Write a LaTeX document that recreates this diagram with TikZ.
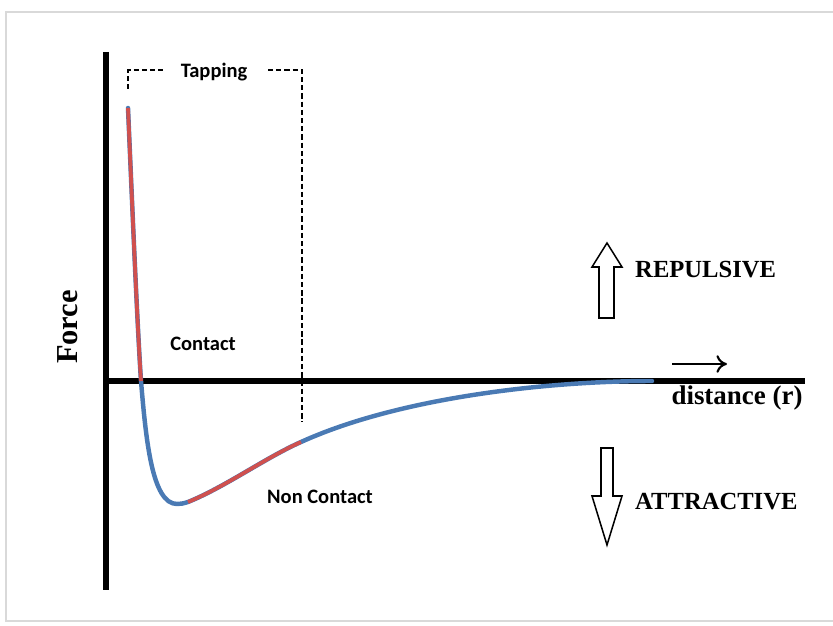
\documentclass[tikz,border=0pt]{standalone}
\usepackage{fontspec}
\setmainfont{Liberation Serif}
\newfontfamily\calibri{Carlito}
\usetikzlibrary{arrows.meta}
\definecolor{curveblue}{RGB}{74,122,180}
\definecolor{curvered}{RGB}{208,80,78}

\begin{document}
\begin{tikzpicture}[x=0.03cm,y=-0.03cm,
  axis/.style={line width=4.3pt},
  tag/.style={font=\calibri\bfseries\fontsize{17.5}{20}\selectfont,inner sep=0pt},
  word/.style={font=\bfseries\fontsize{21}{24}\selectfont,inner sep=0pt},
  bracket/.style={line width=1.4pt,dash pattern=on 4.5pt off 2.5pt},
  hollow/.style={draw,line width=1.3pt,fill=white,line join=miter}]
 \useasboundingbox (0,0) rectangle (833,626);
 \draw[gray!30,line width=1.6pt] (845,12) -- (6,12) -- (6,621) -- (845,621);
 \coordinate (O) at (106,381);
 \draw[axis] (106,52) coordinate (top) -- (106,590) coordinate (bottom);
 \draw[axis] (O) -- (805,381) coordinate (far);
 \node[rotate=90,font=\bfseries\fontsize{26}{30}\selectfont,inner sep=0pt] (force) at (68,327) {Force};
 \node[font=\bfseries\fontsize{23}{26}\selectfont,inner sep=0pt] (dist) at (737,398) {distance (r)};
 \draw[line width=1.8pt,-{To[length=9pt,width=15pt,line width=1.8pt]}] (672,364) coordinate (d0) -- (727,364) coordinate (d1);
 \draw[curveblue,line width=3.8pt,line cap=round]
   (128,108) coordinate (A) .. controls (132,200) and (137,320) .. (141,381) coordinate (B)
   .. controls (146,440) and (152,504) .. (177,504) coordinate (C)
   .. controls (181,504) and (183,503.5) .. (188,502) coordinate (C')
   .. controls (225,487) and (265,458) .. (301,442) coordinate (D)
   .. controls (400,397) and (550,381) .. (652,381) coordinate (E);
 \draw[curvered,line width=3.2pt]
   (A) .. controls (132,200) and (137,320) .. (B);
 \draw[curvered,line width=3.2pt]
   (C') .. controls (225,487) and (265,458) .. (D);
 \node[tag] (tapping) at (214,72) {Tapping};
 \draw[bracket] (128,89) coordinate (t0) -- (128,70) -- (163,70) coordinate (t1);
 \draw[bracket] (268,70) coordinate (t2) -- (302,70) -- (302,422) coordinate (t3);
 \node[tag] (contact) at (203,344) {Contact};
 \node[tag] (noncontact) at (320,497) {Non Contact};
 \draw[hollow] (599,318) -- (599,267) -- (592,267) -- (607,243) -- (622,267) -- (614,267) -- (614,318) -- cycle;
 \draw[hollow] (601,448) -- (601,496) -- (592,496) -- (607,545) -- (622,496) -- (613,496) -- (613,448) -- cycle;
 \node[word,anchor=west] (rep) at (635,270) {REPULSIVE};
 \node[word,anchor=west] (att) at (635,502) {ATTRACTIVE};
\end{tikzpicture}
\end{document}
